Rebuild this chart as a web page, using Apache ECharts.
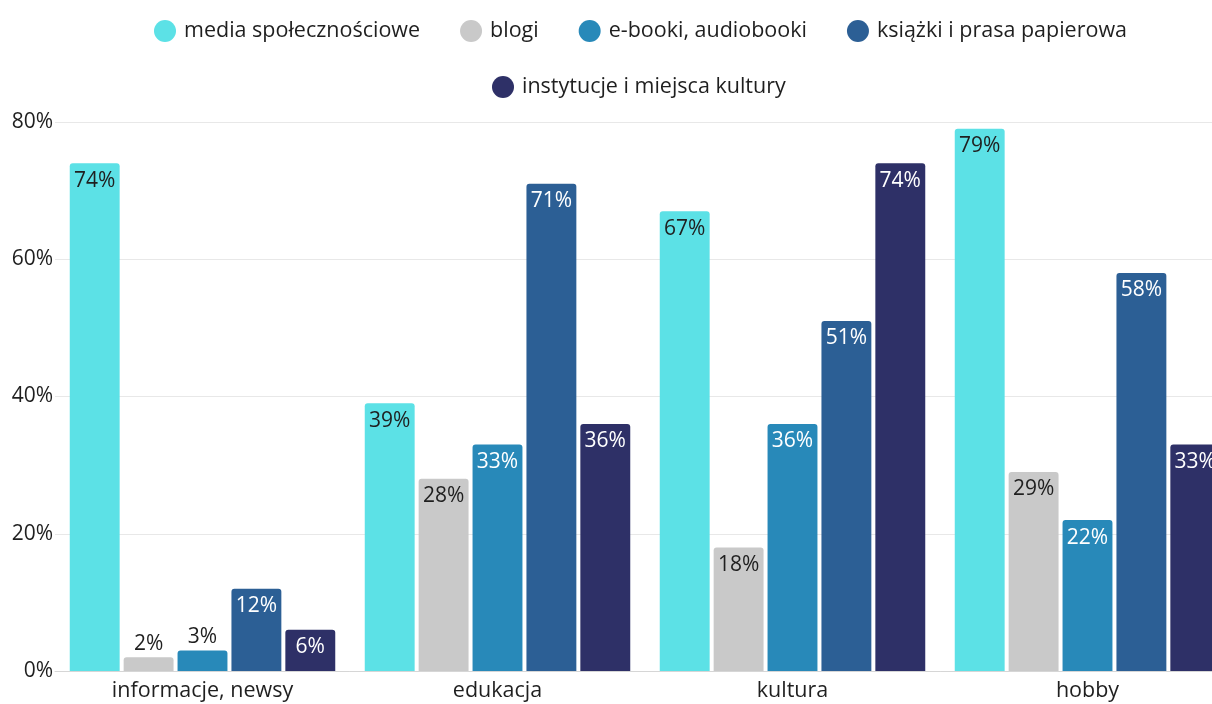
<!DOCTYPE html>
<html>
<head>
<meta charset="utf-8">
<script src="https://cdn.jsdelivr.net/npm/echarts@6/dist/echarts.min.js"></script>
<style>
  html, body { margin: 0; padding: 0; background: #fff; overflow: hidden; }
  /* the last group runs slightly past the right edge of the page */
  #chart { width: 1235px; height: 704px; }
</style>
</head>
<body>
<div id="chart"></div>
<script>
// Categories and series values (percent of respondents)
const categories = ['informacje, newsy', 'edukacja', 'kultura', 'hobby'];
const seriesNames = ['media społecznościowe', 'blogi', 'e-booki, audiobooki', 'książki i prasa papierowa', 'instytucje i miejsca kultury'];
const mediaSpolecznosciowe = [74, 39, 67, 79];
const blogi = [2, 28, 18, 29];
const ebooki = [3, 33, 36, 22];
const ksiazki = [12, 71, 51, 58];
const instytucje = [6, 36, 74, 33];
const yTicks = [0, 20, 40, 60, 80];

const colors = ['#5ce1e6', '#c9c9c9', '#2889b9', '#2c5f95', '#2e3067'];
const labelColors = ['#1f1f1f', '#1f1f1f', '#ffffff', '#ffffff', '#ffffff'];
const values = [mediaSpolecznosciowe, blogi, ebooki, ksiazki, instytucje];
const FONT = 'Open Sans';
const TEXT = '#1f1f1f';

function makeSeries(i) {
  return {
    name: seriesNames[i],
    type: 'bar',
    barGap: '8%',
    barCategoryGap: '10%',
    itemStyle: { color: colors[i], borderRadius: [3, 3, 0, 0] },
    data: values[i].map(v => {
      const small = v < 5;
      return {
        value: v,
        label: small
          ? { position: 'top', distance: 3, color: TEXT }
          : { position: 'insideTop', distance: 7, color: labelColors[i] }
      };
    }),
    label: {
      show: true,
      formatter: p => p.value + '%',
      fontFamily: FONT,
      fontSize: 21
    }
  };
}

const chart = echarts.init(document.getElementById('chart'), null, { renderer: 'canvas' });
const legendText = { fontFamily: FONT, fontSize: 21.5, color: TEXT, padding: [0, 0, 0, 3] };
chart.setOption({
  animation: false,
  backgroundColor: '#ffffff',
  color: colors,
  legend: [
    {
      data: seriesNames.slice(0, 4),
      left: 149, top: 15,
      icon: 'circle', itemWidth: 22, itemHeight: 22, itemGap: 40,
      textStyle: legendText
    },
    {
      data: seriesNames.slice(4),
      left: 487, top: 71,
      icon: 'circle', itemWidth: 22, itemHeight: 22,
      textStyle: legendText
    }
  ],
  grid: { left: 55, top: 122, right: 0, bottom: 33, containLabel: false },
  xAxis: {
    type: 'category',
    data: categories,
    axisTick: { show: false },
    axisLine: { lineStyle: { color: '#d6d6d6' } },
    axisLabel: { fontFamily: FONT, fontSize: 21.5, color: TEXT, margin: 9 }
  },
  yAxis: {
    type: 'value',
    min: yTicks[0], max: yTicks[yTicks.length - 1], interval: 20,
    axisLabel: { formatter: '{value}%', fontFamily: FONT, fontSize: 21, color: TEXT, margin: 2 },
    splitLine: { lineStyle: { color: '#e8e8e8' } }
  },
  series: seriesNames.map((_, i) => makeSeries(i))
});
</script>
</body>
</html>
